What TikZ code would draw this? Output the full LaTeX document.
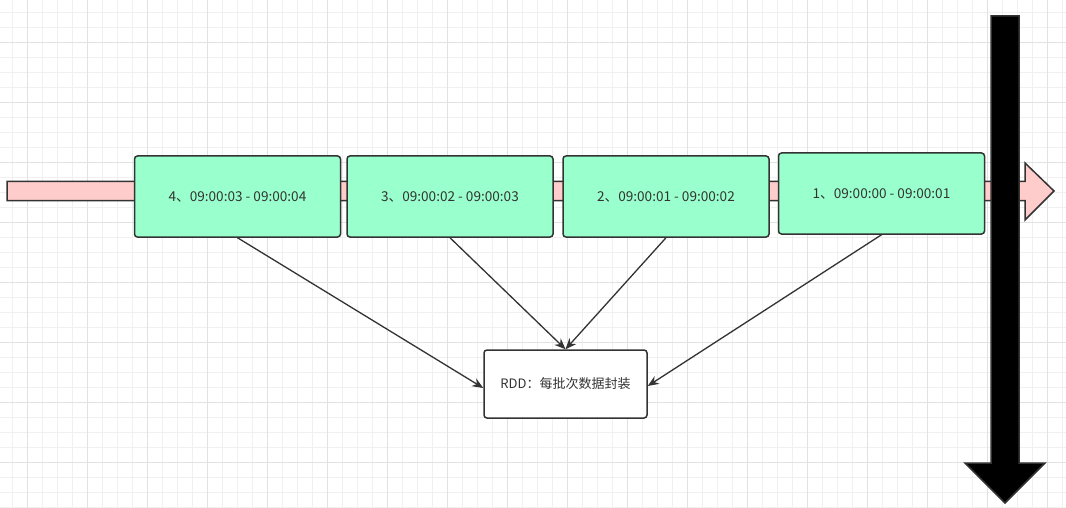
\documentclass[tikz,border=0pt]{standalone}
\usepackage{fontspec}
\setmainfont{Noto Sans CJK SC}
\usetikzlibrary{arrows.meta}
\definecolor{gridminor}{HTML}{F0F0F0}
\definecolor{gridmajor}{HTML}{E2E2E2}
\definecolor{boxgreen}{HTML}{99FFCC}
\definecolor{pinkfill}{HTML}{FFCCCC}
\definecolor{strokec}{HTML}{333333}
\definecolor{textc}{HTML}{333333}
\tikzset{
  batch/.style={draw=strokec, fill=boxgreen, line width=1.5pt, rounded corners=3pt,
    minimum width=206pt, minimum height=81pt, inner sep=0pt, text=textc, font=\fontsize{13.6pt}{16pt}\selectfont},
  rddbox/.style={draw=strokec, fill=white, line width=1.5pt, rounded corners=3pt,
    minimum width=163pt, minimum height=68pt, inner sep=0pt, text=textc, font=\fontsize{13pt}{16pt}\selectfont},
  link/.style={draw=strokec, line width=1.3pt, -{Stealth[length=11pt,width=9pt]}},
  bigarrow/.style={line width=1.5pt, draw=strokec, line join=miter}
}
\begin{document}
\begin{tikzpicture}[x=1pt,y=-1pt]
\useasboundingbox (0,0) rectangle (1066,508);
\fill[white] (0,0) rectangle (1066,508);
% grid
\foreach \i in {0,...,71} {
  \draw[gridminor, line width=0.8pt] ({12.3+15*\i},0) -- ({12.3+15*\i},508);
}
\foreach \i in {0,...,33} {
  \draw[gridminor, line width=0.8pt] (0,{12.3+15*\i}) -- (1066,{12.3+15*\i});
}
\foreach \i in {0,...,17} {
  \draw[gridmajor, line width=0.8pt] ({27.3+60*\i},0) -- ({27.3+60*\i},508);
}
\foreach \i in {0,...,8} {
  \draw[gridmajor, line width=0.8pt] (0,{42.3+60*\i}) -- (1066,{42.3+60*\i});
}
% pink timeline arrow
\draw[bigarrow, fill=pinkfill] (7,181.5) -- (1025,181.5) -- (1025,163) -- (1054,191) -- (1025,220) -- (1025,200.5) -- (7,200.5) -- cycle;
% batches
\node[batch] (b4) at (237.5,196.5) {4、09:00:03 - 09:00:04};
\node[batch] (b3) at (450,196.5) {3、09:00:02 - 09:00:03};
\node[batch] (b2) at (666,196.5) {2、09:00:01 - 09:00:02};
\node[batch] (b1) at (881.5,193.5) {1、09:00:00 - 09:00:01};
% black arrow
\draw[bigarrow, fill=black] (991,16) -- (1019,16) -- (1019,463) -- (1045,463) -- (1005,503) -- (965,463) -- (991,463) -- cycle;
% RDD
\node[rddbox] (rdd) at (565.5,384) {RDD：每批次数据封装};
% connectors
\draw[link] (b4.south) -- ([yshift=-4pt]rdd.west);
\draw[link] (b3.south) -- (rdd.north);
\draw[link] (b2.south) -- (rdd.north);
\draw[link] (b1.south) -- ([yshift=-2pt]rdd.east);
\end{tikzpicture}
\end{document}
